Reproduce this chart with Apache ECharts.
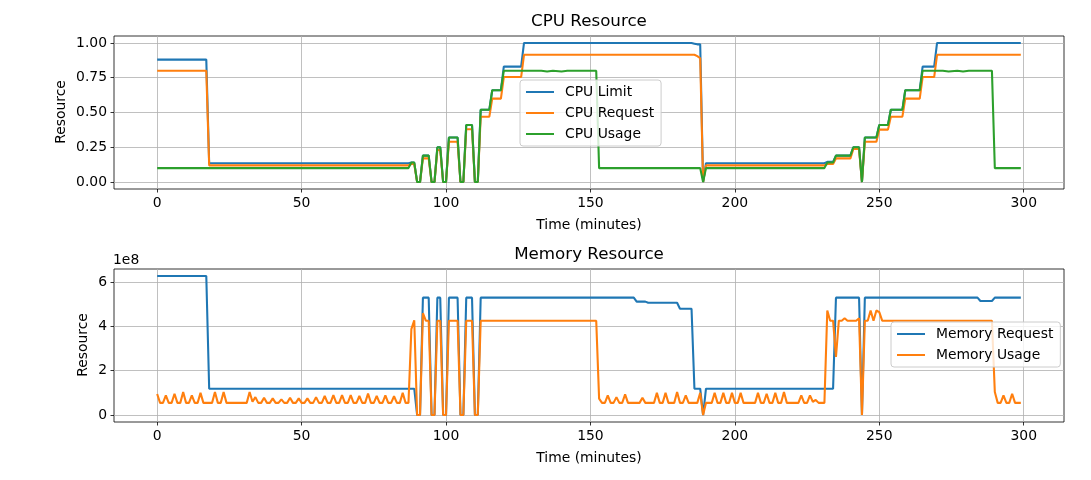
<!DOCTYPE html>
<html><head><meta charset="utf-8">
<script src="https://cdn.jsdelivr.net/npm/echarts@6/dist/echarts.min.js"></script>
<style>html,body{margin:0;padding:0;background:#fff}#c{width:1091px;height:480px}</style>
</head><body><div id="c"></div>
<script>
// ---- tick labels ----
const xTicks = [0, 50, 100, 150, 200, 250, 300];
const cpuTicks = [0, 0.25, 0.5, 0.75, 1.0];
const memTicks = [0, 2, 4, 6]; // in units of 1e8

// ---- series data: [minute, value] breakpoints ----
const cpuLimit = [[0,0.88],[17,0.88],[18,0.135],[87,0.135],[88,0.14],[89,0.14],[90,0],[91,0],[92,0.19],[94,0.19],[95,0],[96,0],[97,0.25],[98,0.25],[99,0],[100,0],[101,0.32],[104,0.32],[105,0],[106,0],[107,0.41],[109,0.41],[110,0],[111,0],[112,0.52],[115,0.52],[116,0.66],[119,0.66],[120,0.83],[126,0.83],[127,1.0],[185,1.0],[186,0.995],[187,0.99],[188,0.99],[189,0],[190,0.135],[231,0.135],[232,0.145],[234,0.145],[235,0.19],[240,0.19],[241,0.25],[243,0.25],[244,0],[245,0.32],[249,0.32],[250,0.41],[253,0.41],[254,0.52],[258,0.52],[259,0.66],[264,0.66],[265,0.83],[269,0.83],[270,1.0],[299,1.0]];
const cpuRequest = [[0,0.80],[17,0.80],[18,0.12],[87,0.12],[88,0.13],[89,0.13],[90,0],[91,0],[92,0.17],[94,0.17],[95,0],[96,0],[97,0.23],[98,0.23],[99,0],[100,0],[101,0.29],[104,0.29],[105,0],[106,0],[107,0.38],[109,0.38],[110,0],[111,0],[112,0.47],[115,0.47],[116,0.60],[119,0.60],[120,0.755],[126,0.755],[127,0.915],[186,0.915],[187,0.905],[188,0.89],[189,0],[190,0.12],[231,0.12],[232,0.13],[234,0.13],[235,0.17],[240,0.17],[241,0.237],[243,0.237],[244,0],[245,0.29],[249,0.29],[250,0.377],[253,0.377],[254,0.47],[258,0.47],[259,0.60],[264,0.60],[265,0.755],[269,0.755],[270,0.915],[299,0.915]];
const cpuUsage = [[0,0.10],[87,0.10],[88,0.14],[89,0.14],[90,0],[91,0],[92,0.19],[94,0.19],[95,0],[96,0],[97,0.25],[98,0.25],[99,0],[100,0],[101,0.32],[104,0.32],[105,0],[106,0],[107,0.41],[109,0.41],[110,0],[111,0],[112,0.52],[115,0.52],[116,0.66],[119,0.66],[120,0.80],[133,0.80],[135,0.795],[137,0.80],[140,0.795],[142,0.80],[152,0.80],[153,0.10],[188,0.10],[189,0],[190,0.10],[231,0.10],[232,0.14],[234,0.14],[235,0.19],[240,0.19],[241,0.25],[243,0.25],[244,0],[245,0.32],[249,0.32],[250,0.41],[253,0.41],[254,0.52],[258,0.52],[259,0.66],[264,0.66],[265,0.80],[272,0.80],[274,0.795],[277,0.80],[279,0.795],[281,0.80],[289,0.80],[290,0.10],[299,0.10]];

const memRequest = [[0,6.28],[17,6.28],[18,1.19],[89,1.19],[90,0],[91,0],[92,5.3],[94,5.3],[95,0],[96,0],[97,5.3],[98,5.3],[99,0],[100,0],[101,5.3],[104,5.3],[105,0],[106,0],[107,5.3],[109,5.3],[110,0],[111,0],[112,5.3],[165,5.3],[166,5.12],[169,5.12],[170,5.07],[180,5.07],[181,4.8],[185,4.8],[186,1.19],[188,1.19],[189,0],[190,1.19],[234,1.19],[235,5.3],[243,5.3],[244,0],[245,5.3],[284,5.3],[285,5.15],[289,5.15],[290,5.3],[299,5.3]];
const memUsage = [[0,0.95],[1,0.55],[2,0.55],[3,0.89],[4,0.55],[5,0.55],[6,0.96],[7,0.55],[8,0.55],[9,1.04],[10,0.55],[11,0.55],[12,0.89],[13,0.55],[14,0.55],[15,1.0],[16,0.55],[19,0.55],[20,1.04],[21,0.55],[22,0.55],[23,1.04],[24,0.55],[31,0.55],[32,1.04],[33,0.6],[34,0.81],[35,0.55],[36,0.55],[37,0.78],[38,0.55],[39,0.55],[40,0.75],[41,0.55],[42,0.55],[43,0.71],[44,0.55],[45,0.55],[46,0.78],[47,0.55],[48,0.55],[49,0.75],[50,0.55],[51,0.55],[52,0.75],[53,0.55],[54,0.55],[55,0.81],[56,0.55],[57,0.55],[58,0.86],[59,0.55],[60,0.55],[61,0.9],[62,0.55],[63,0.55],[64,0.9],[65,0.55],[66,0.55],[67,0.9],[68,0.55],[69,0.55],[70,0.86],[71,0.55],[72,0.55],[73,0.97],[74,0.55],[75,0.55],[76,0.86],[77,0.55],[78,0.55],[79,0.89],[80,0.55],[81,0.55],[82,0.85],[83,0.55],[84,0.55],[85,1.0],[86,0.55],[87,0.55],[88,3.88],[89,4.28],[90,0],[91,0],[92,4.6],[93,4.26],[94,4.26],[95,0],[96,0],[97,4.26],[98,4.26],[99,0],[100,0],[101,4.26],[104,4.26],[105,0],[106,0],[107,4.26],[109,4.26],[110,0],[111,0],[112,4.26],[152,4.26],[153,0.74],[154,0.55],[155,0.55],[156,0.89],[157,0.55],[158,0.55],[159,0.81],[160,0.55],[161,0.55],[162,0.93],[163,0.55],[167,0.55],[168,0.78],[169,0.55],[172,0.55],[173,1.0],[174,0.55],[175,0.55],[176,1.0],[177,0.55],[179,0.55],[180,1.04],[181,0.55],[182,0.55],[183,0.89],[184,0.55],[187,0.55],[188,1.0],[189,0],[190,0.55],[192,0.55],[193,1.0],[194,0.55],[195,0.55],[196,1.0],[197,0.55],[198,0.55],[199,1.0],[200,0.55],[201,0.55],[202,1.0],[203,0.55],[207,0.55],[208,1.0],[209,0.55],[210,0.55],[211,0.96],[212,0.55],[213,0.55],[214,1.0],[215,0.55],[216,0.55],[217,1.04],[218,0.55],[222,0.55],[223,0.89],[224,0.55],[225,0.55],[226,0.89],[227,0.6],[228,0.68],[229,0.55],[231,0.55],[232,4.72],[233,4.26],[234,4.26],[235,2.63],[236,4.26],[237,4.26],[238,4.37],[239,4.26],[242,4.26],[243,4.37],[244,0],[245,4.26],[246,4.26],[247,4.72],[248,4.26],[249,4.72],[250,4.65],[251,4.26],[289,4.26],[290,1.04],[291,0.55],[292,0.55],[293,0.89],[294,0.55],[295,0.55],[296,0.96],[297,0.55],[299,0.55]];

const F = '"DejaVu Sans", sans-serif';
const C0 = '#1f77b4', C1 = '#ff7f0e', C2 = '#2ca02c';

function xAx(gi) {
  return { type: 'value', gridIndex: gi, min: -14.95, max: 313.95,
    axisLine: { show: false, onZero: false },
    axisTick: { show: true, length: 3.5, lineStyle: { color: '#000', width: 0.8 }, customValues: xTicks },
    axisLabel: { customValues: xTicks, margin: 7, color: '#000', fontFamily: F, fontSize: 13.9 },
    splitLine: { show: true, lineStyle: { color: '#b0b0b0', width: 0.8 } } };
}
function yAx(gi, min, max, ticks, fmt) {
  return { type: 'value', gridIndex: gi, min, max,
    axisLine: { show: false, onZero: false },
    axisTick: { show: true, length: 3.5, lineStyle: { color: '#000', width: 0.8 }, customValues: ticks },
    axisLabel: { customValues: ticks, margin: 7, color: '#000', fontFamily: F, fontSize: 13.9, formatter: fmt },
    splitLine: { show: true, lineStyle: { color: '#b0b0b0', width: 0.8 } } };
}
function ln(name, data, color, idx) {
  return { name, type: 'line', xAxisIndex: idx, yAxisIndex: idx, data, showSymbol: false, symbol: 'none',
    lineStyle: { color, width: 2.08 }, itemStyle: { color }, animation: false, clip: true,
    emphasis: { disabled: true } };
}
function leg(names, left, top) {
  return { data: names, orient: 'vertical', left, top, itemWidth: 28, itemHeight: 14, itemGap: 7,
    padding: [5, 7, 5, 5], backgroundColor: 'rgba(255,255,255,0.8)', borderColor: '#cccccc',
    borderWidth: 1, borderRadius: 3, selectedMode: false,
    itemStyle: { opacity: 0 },
    textStyle: { fontFamily: F, fontSize: 13.9, color: '#000', padding: [0, 0, 0, 6] } };
}
function txt(text, x, y, size, rot) {
  return { type: 'text', x, y, rotation: rot || 0, z: 10,
    style: { text, font: size + 'px ' + F, fill: '#000', align: 'center', verticalAlign: 'middle' } };
}

const chart = echarts.init(document.getElementById('c'), null, { renderer: 'canvas' });
chart.setOption({
  animation: false,
  backgroundColor: '#fff',
  grid: [
    { left: 114, top: 36, width: 950, height: 153, show: true, borderColor: '#000', borderWidth: 0.8, backgroundColor: 'transparent' },
    { left: 114, top: 269, width: 950, height: 153, show: true, borderColor: '#000', borderWidth: 0.8, backgroundColor: 'transparent' }
  ],
  xAxis: [xAx(0), xAx(1)],
  yAxis: [
    yAx(0, -0.05, 1.05, cpuTicks, v => v.toFixed(2)),
    yAx(1, -0.314, 6.594, memTicks, v => String(Math.round(v)))
  ],
  legend: [
    leg(['CPU Limit', 'CPU Request', 'CPU Usage'], 520, 80),
    leg(['Memory Request', 'Memory Usage'], 891, 322)
  ],
  series: [
    ln('CPU Limit', cpuLimit, C0, 0),
    ln('CPU Request', cpuRequest, C1, 0),
    ln('CPU Usage', cpuUsage, C2, 0),
    ln('Memory Request', memRequest, C0, 1),
    ln('Memory Usage', memUsage, C1, 1)
  ],
  graphic: [
    txt('CPU Resource', 589, 22, 16.7),
    txt('Time (minutes)', 589, 225, 13.9),
    txt('Resource', 61, 112, 13.9, Math.PI / 2),
    txt('Memory Resource', 589, 255, 16.7),
    txt('Time (minutes)', 589, 458, 13.9),
    txt('Resource', 83, 345, 13.9, Math.PI / 2),
    { type: 'text', x: 113, y: 260, z: 10, style: { text: '1e8', font: '13.9px ' + F, fill: '#000', align: 'left', verticalAlign: 'middle' } }
  ]
});
</script></body></html>
